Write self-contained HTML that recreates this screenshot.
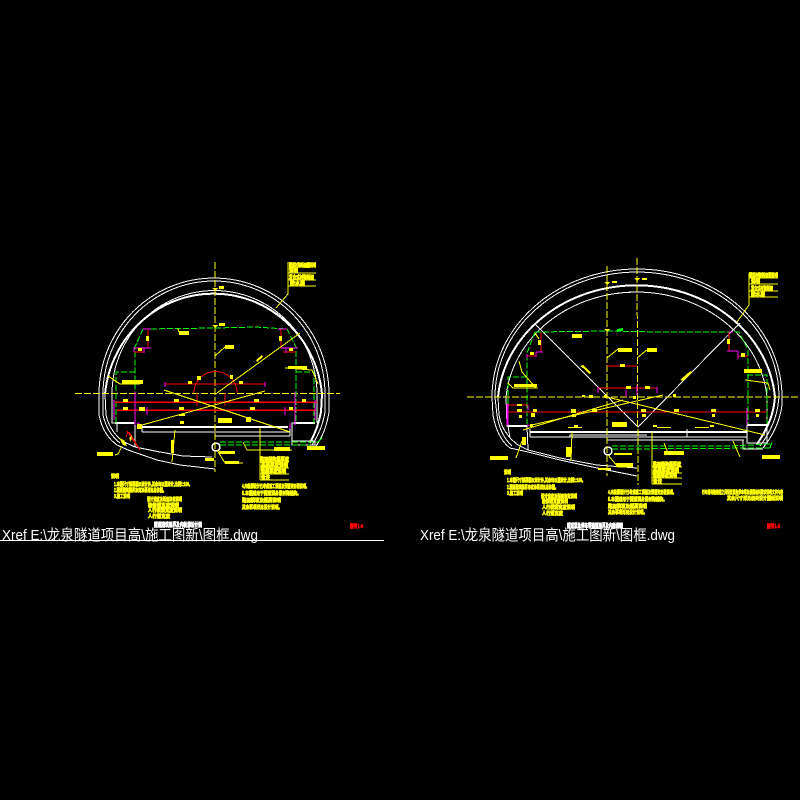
<!DOCTYPE html>
<html><head><meta charset="utf-8"><style>
html,body{margin:0;padding:0;background:#000;width:800px;height:800px;overflow:hidden}
svg{display:block;shape-rendering:crispEdges}
.w{fill:none;stroke:#fff;stroke-width:1}
.y{fill:none;stroke:#ff0;stroke-width:1}
.yd{fill:none;stroke:#ff0;stroke-width:1;stroke-dasharray:7 2}
.g{fill:none;stroke:#0f0;stroke-width:1;stroke-dasharray:6 2}
.r{fill:none;stroke:#f00;stroke-width:1}
.m{fill:none;stroke:#f0f;stroke-width:1}
.t{fill:#ff0;stroke:#ff0;stroke-width:.7;font:bold 5px "Liberation Sans","Noto Sans CJK SC",sans-serif}
.b{fill:#ff0}
.x{fill:#fff;font:15px "Liberation Sans","WenQuanYi Zen Hei","Noto Sans CJK SC",sans-serif}
.h{fill:#fff;stroke:#fff;stroke-width:.7;font:bold 6px "Noto Sans CJK SC",sans-serif}
.n{fill:#f00;stroke:#f00;stroke-width:.7;font:bold 5px "Noto Sans CJK SC",sans-serif}
</style></head><body>
<svg width="800" height="800" viewBox="0 0 800 800" xmlns="http://www.w3.org/2000/svg">
<rect width="800" height="800" fill="#000"/>

<!-- LEFT TUNNEL -->
<g>
<path class="w" d="M99 394A115 116 0 0 1 329 394L329 412Q326 432 316 446"/>
<path class="w" d="M103 394A111 113 0 0 1 325 394L325 412Q322 430 312 445"/>
<path class="w" style="stroke-width:2" d="M105 394A109 111 0 0 1 322 394L321 412Q318 428 310 443"/>
<path class="w" d="M112 394A102 103 0 0 1 317 394L317 423"/>
<path class="w" d="M99 394L99 415Q103 435 117 445L128 450L157 460L180 465L215 469"/>
<path class="w" d="M103 394L103 415Q107 433 120 443"/>
<path class="w" d="M105 394L106 415Q110 432 124 442L135 447L160 452L183 456L212 457"/>
<path class="w" d="M112 394L112 423L115 423L135 423L135 447M117 423L117 432M292 441L315 441L315 445L292 445L292 423L315 423"/>
<path class="w" style="stroke-width:2" d="M142 427L288 427M115 423L134 423M294 423L315 423"/>
<path class="w" d="M142 432L290 432M215 436L290 436M142 425L142 432M290 425L290 436"/>
<circle cx="216" cy="447" r="4" class="w" style="stroke-width:1.5"/>

<path class="yd" d="M215 262L215 472M75 393.500L340 393.500"/>
<path class="g" d="M143 329L215 328L255 327L287 329L296 347L296 422M143 329L135 347L135 422M135 372L116 372L116 423M296 372L314 372L314 423"/>
<path class="g" d="M220 442L318 442M220 445L310 445M318 442L322 438"/>

<path class="r" d="M148 329L148 348M281 329L281 348M134 352L144 352M283 352L296 352M165 384L265 384M194 393A21 21 0 0 1 237 393"/>
<path class="r" style="stroke-width:1.500" d="M115 402L317 402M117 410L316 410"/>
<path class="r" d="M127 431L140 450L129 432M128 432L126 437M197 393L197 406M225 393L225 406"/>
<path class="m" d="M143 329L151 329M278 329L287 329M135 348L151 348M134 347L134 352M144 348L144 353M281 348L298 348M286 348L286 353M165 382L165 387M265 382L265 387M114 400L114 420M135 392L135 425M295 392L295 425M315 400L315 420M290 423L290 429M137 423L142 425M147 407L147 415M285 407L285 415"/>

<path class="y" d="M142 425L265 391M164 390L290 432M217 393L300 333M215 356L225 347M108 376L120 384L140 384M276 308L288 294L288 262M288 273L316 273M288 280L316 280M288 286L316 286M285 368L312 370L318 384M178 329L179 332M260 428L260 480M260 462L289 462M260 468L289 468M260 474L289 474M260 480L289 480M243 442L247 450L292 450M217 450L225 463L243 463M115 455L118 454L122 446M175 430L172 462"/>

<g class="b">
<rect x="179" y="331" width="10" height="4"/><rect x="225" y="345" width="9" height="4"/><rect x="146" y="336" width="3" height="5"/><rect x="279" y="336" width="3" height="5"/><rect x="138" y="348" width="4" height="3"/><rect x="289" y="348" width="4" height="3"/>
<rect x="219" y="286" width="5" height="3"/><rect x="219" y="323" width="6" height="3"/>
<path d="M212 288h6l-3 3zM212 325h6l-3 3z"/>
<rect x="288" y="366" width="19" height="3"/><rect x="122" y="380" width="21" height="4"/>
<rect x="188" y="381" width="4" height="3"/><rect x="239" y="381" width="4" height="3"/>
<rect x="197" y="376" width="4" height="4"/><rect x="230" y="375" width="3" height="4"/>
<path d="M256 360l6-5 1 2-6 5z"/>
<rect x="123" y="399" width="5" height="3"/><rect x="174" y="399" width="5" height="3"/><rect x="254" y="399" width="5" height="3"/><rect x="302" y="399" width="4" height="3"/>
<rect x="123" y="407" width="5" height="3"/><rect x="179" y="407" width="5" height="3"/><rect x="250" y="407" width="5" height="3"/><rect x="289" y="407" width="4" height="3"/><rect x="139" y="407" width="6" height="4"/>
<rect x="179" y="414" width="6" height="2"/><rect x="218" y="418" width="14" height="5"/><rect x="180" y="421" width="4" height="3"/><rect x="246" y="417" width="5" height="5"/>
<rect x="137" y="424" width="5" height="5"/>
<rect x="97" y="452" width="16" height="4"/><rect x="274" y="447" width="16" height="4"/><rect x="307" y="446" width="18" height="4"/>
<rect x="171" y="440" width="3" height="13"/><rect x="225" y="461" width="14" height="3"/><rect x="205" y="458" width="9" height="3"/><rect x="219" y="451" width="16" height="3"/>
<path d="M119 438l5 2 3 6-4-1zM129 438l3-3-1 7z"/>
</g>

<text class="t" x="289" y="267" textLength="27" lengthAdjust="spacingAndGlyphs">隧道衬砌断面图说明</text>
<text class="t" x="289" y="272" textLength="9" lengthAdjust="spacingAndGlyphs">说明</text>
<text class="t" x="289" y="279" textLength="25" lengthAdjust="spacingAndGlyphs">复合式衬砌断面</text>
<text class="t" x="290" y="285" textLength="15" lengthAdjust="spacingAndGlyphs">防水层</text>
<text class="t" x="260" y="461" textLength="29" lengthAdjust="spacingAndGlyphs">路面结构层厚度</text>
<text class="t" x="261" y="467" textLength="27" lengthAdjust="spacingAndGlyphs">基层厚度说明</text>
<text class="t" x="261" y="473" textLength="25" lengthAdjust="spacingAndGlyphs">垫层厚度说明</text>
<text class="t" x="261" y="479" textLength="9" lengthAdjust="spacingAndGlyphs">备注</text>

<text class="t" x="111" y="478" textLength="8" lengthAdjust="spacingAndGlyphs">说明</text>
<text class="t" x="114" y="486" textLength="78" lengthAdjust="spacingAndGlyphs">1.本图尺寸除高程以米计外,其余均以厘米计,比例1:100。</text>
<text class="t" x="114" y="492" textLength="52" lengthAdjust="spacingAndGlyphs">2.隧道建筑限界净宽净高详见总体图。</text>
<text class="t" x="114" y="498" textLength="16" lengthAdjust="spacingAndGlyphs">3.施工说明</text>
<text class="t" x="147" y="501" textLength="35" lengthAdjust="spacingAndGlyphs">设计速度及断面净宽说明</text>
<text class="t" x="148" y="507" textLength="31" lengthAdjust="spacingAndGlyphs">检修道宽度说明</text>
<text class="t" x="148" y="512" textLength="34" lengthAdjust="spacingAndGlyphs">人行横洞宽度说明</text>
<text class="t" x="148" y="518" textLength="22" lengthAdjust="spacingAndGlyphs">人行道宽度</text>
<text class="t" x="242" y="488" textLength="67" lengthAdjust="spacingAndGlyphs">4.内轮廓设计已考虑施工误差及预留变形量说明。</text>
<text class="t" x="242" y="495" textLength="59" lengthAdjust="spacingAndGlyphs">5.本图适用于隧道洞身段衬砌结构。</text>
<text class="t" x="242" y="502" textLength="39" lengthAdjust="spacingAndGlyphs">路面横坡及超高说明</text>
<text class="t" x="242" y="509" textLength="40" lengthAdjust="spacingAndGlyphs">其余事项详见设计说明。</text>
<text class="h" x="154" y="527" textLength="48" lengthAdjust="spacingAndGlyphs">隧道建筑限界及内轮廓设计图</text>
<text class="n" x="350" y="528" textLength="13" lengthAdjust="spacingAndGlyphs">图号1-4</text>
</g>

<!-- RIGHT TUNNEL -->
<g>
<path class="w" d="M492 397A145 128 0 0 1 782 397L782 405Q779 428 763 448"/>
<path class="w" d="M495 397A142 125 0 0 1 779 397L778 405Q775 426 760 446"/>
<path class="w" style="stroke-width:2" d="M498 397A139 122 0 0 1 775 397L774 405Q771 424 757 444"/>
<path class="w" d="M506 397A131 115 0 0 1 767 397L767 425"/>
<path class="w" d="M492 397L493 415Q497 438 510 448L528 452L560 460L597 468L637 476"/>
<path class="w" d="M495 397L497 415Q500 435 512 446"/>
<path class="w" d="M498 397L499 415Q502 433 518 445L528 450L560 458L597 465L637 468"/>
<path class="w" d="M506 397L507 426L527 426L528 450M508 426L510 438M747 425L767 425L767 443L747 443L747 425M743 440L743 449L763 449"/>
<path class="w" style="stroke-width:2" d="M530 432L747 432M508 426L527 426M747 425L767 425"/>
<path class="w" d="M530 437L570 437L570 435L647 435M570 437L747 437M607 440L744 440M530 429L530 437M687 429L687 437"/>
<circle cx="608" cy="451" r="4" class="w" style="stroke-width:1.500"/>
<path class="w" d="M535 324L638 427L740 323"/>

<path class="yd" d="M607 266L607 476M637 258L638 485M467 397L800 397"/>
<path class="g" d="M535 332L610 331L660 332L739 332L748 350L748 424M535 332L527 353L527 424M527 377L508 377L508 424M747 375L767 375L767 424"/>
<path class="g" d="M612 446L730 446L770 444M612 449L770 448M770 448L772 442"/>
<path class="r" d="M541 332L541 352M729 332L729 351M527 356L536 356M738 356L748 356M607 366L637 366M598 388L657 388M507 405L528 405"/>
<path class="r" style="stroke-width:1" d="M507 412L767 412"/>
<path class="m" d="M536 352L543 352M536 352L536 357M527 354L527 358M727 351L738 351M738 351L738 359M729 332L733 332M598 387L598 393M657 387L657 393M637 385L637 395M507 404L507 425M508 404L508 425M528 405L528 410M747 408L747 425M527 425L532 426M626 390L626 397"/>

<path class="y" d="M532 425L663 395M607 397L765 435M523 430L623 400M749 305L749 273M749 305L737 322M749 278L778 278M749 284L778 284M749 291L778 291M749 297L778 297M519 361L522 372L536 388M508 383L513 388L538 388M607 358L618 349M637 358L648 349M535 333L539 339M652 432L652 484M652 467L682 467M652 473L682 473M652 478L682 478M652 484L682 484M745 380L768 383L770 390M664 443L668 453L684 453M733 441L740 457M516 458L522 441M608 455L618 467L632 467M571 461L572 432"/>
<g class="b">
<rect x="572" y="334" width="10" height="4"/><rect x="618" y="348" width="14" height="4"/><rect x="647" y="348" width="10" height="4"/><rect x="538" y="340" width="3" height="5"/><rect x="530" y="352" width="4" height="3"/><rect x="727" y="339" width="3" height="5"/><rect x="741" y="353" width="4" height="4"/>
<rect x="612" y="281" width="5" height="2"/><rect x="642" y="278" width="5" height="2"/><path d="M604 282h6l-3 3zM634 278h6l-3 3zM604 329h6l-3 3z"/>
<path d="M580 366l3-1 2 2 2 2 2 2 2 2-2 1-3-3-3-3z"/><path d="M680 380l8-7 3-2 1 2-3 2-6 6z"/>
<rect x="744" y="369" width="18" height="4"/><rect x="514" y="384" width="23" height="3"/><rect x="620" y="364" width="5" height="3"/><rect x="626" y="386" width="5" height="3"/><rect x="645" y="386" width="5" height="3"/>
<rect x="517" y="404" width="5" height="2"/>
<rect x="517" y="409" width="5" height="3"/><rect x="519" y="415" width="3" height="3"/><rect x="533" y="409" width="4" height="3"/><rect x="531" y="413" width="4" height="4"/>
<rect x="571" y="409" width="5" height="4"/><rect x="572" y="414" width="4" height="3"/><rect x="592" y="409" width="5" height="3"/><rect x="641" y="409" width="5" height="3"/><rect x="642" y="414" width="4" height="3"/>
<rect x="674" y="409" width="5" height="3"/><rect x="711" y="409" width="5" height="3"/><rect x="712" y="414" width="3" height="3"/><rect x="755" y="409" width="5" height="3"/><rect x="756" y="414" width="3" height="3"/>
<rect x="612" y="422" width="15" height="5"/>
<rect x="490" y="456" width="18" height="4"/><rect x="664" y="451" width="20" height="4"/><rect x="762" y="455" width="18" height="4"/><rect x="616" y="463" width="17" height="4"/><rect x="598" y="468" width="13" height="2"/><rect x="614" y="453" width="18" height="2"/>
<rect x="566" y="447" width="5" height="10"/><rect x="522" y="437" width="4" height="8"/><rect x="530" y="424" width="3" height="3"/>
<rect x="568" y="427" width="14" height="1"/><rect x="657" y="427" width="14" height="1"/><rect x="695" y="427" width="14" height="1"/>
<rect x="574" y="425" width="4" height="2"/><rect x="653" y="425" width="4" height="2"/><rect x="710" y="425" width="4" height="2"/>
<rect x="633" y="396" width="3" height="3"/><rect x="589" y="395" width="4" height="3"/><rect x="673" y="394" width="3" height="3"/><rect x="604" y="395" width="3" height="3"/><rect x="582" y="395" width="3" height="2"/><path d="M617 329l6-1v3l-6 1z" fill="#0f0"/>
</g>

<text class="t" x="749" y="277" textLength="29" lengthAdjust="spacingAndGlyphs">隧道衬砌断面图说明</text>
<text class="t" x="751" y="283" textLength="9" lengthAdjust="spacingAndGlyphs">说明</text>
<text class="t" x="751" y="290" textLength="22" lengthAdjust="spacingAndGlyphs">复合式衬砌断面</text>
<text class="t" x="751" y="296" textLength="14" lengthAdjust="spacingAndGlyphs">防水层</text>
<text class="t" x="653" y="466" textLength="28" lengthAdjust="spacingAndGlyphs">路面结构层厚度</text>
<text class="t" x="653" y="472" textLength="26" lengthAdjust="spacingAndGlyphs">基层厚度说明</text>
<text class="t" x="653" y="477" textLength="24" lengthAdjust="spacingAndGlyphs">垫层厚度说明</text>
<text class="t" x="653" y="483" textLength="9" lengthAdjust="spacingAndGlyphs">备注</text>

<text class="t" x="504" y="474" textLength="7" lengthAdjust="spacingAndGlyphs">说明</text>
<text class="t" x="507" y="482" textLength="78" lengthAdjust="spacingAndGlyphs">1.本图尺寸除高程以米计外,其余均以厘米计,比例1:100。</text>
<text class="t" x="507" y="489" textLength="51" lengthAdjust="spacingAndGlyphs">2.隧道建筑限界净宽净高详见总体图。</text>
<text class="t" x="507" y="495" textLength="16" lengthAdjust="spacingAndGlyphs">3.施工说明</text>
<text class="t" x="541" y="498" textLength="36" lengthAdjust="spacingAndGlyphs">设计速度及断面净宽说明</text>
<text class="t" x="542" y="503" textLength="26" lengthAdjust="spacingAndGlyphs">检修道宽度说明</text>
<text class="t" x="542" y="509" textLength="33" lengthAdjust="spacingAndGlyphs">人行横洞宽度说明</text>
<text class="t" x="542" y="515" textLength="21" lengthAdjust="spacingAndGlyphs">人行道宽度</text>
<text class="t" x="608" y="494" textLength="68" lengthAdjust="spacingAndGlyphs">4.内轮廓设计已考虑施工误差及预留变形量说明。</text>
<text class="t" x="608" y="501" textLength="59" lengthAdjust="spacingAndGlyphs">5.本图适用于隧道洞身段衬砌结构。</text>
<text class="t" x="608" y="508" textLength="39" lengthAdjust="spacingAndGlyphs">路面横坡及超高说明</text>
<text class="t" x="608" y="514" textLength="39" lengthAdjust="spacingAndGlyphs">其余事项详见设计说明。</text>
<text class="t" x="702" y="494" textLength="81" lengthAdjust="spacingAndGlyphs">行车道与检修道之间设置紧急停车带及横洞相关要求说明文字内容</text>
<text class="t" x="727" y="500" textLength="56" lengthAdjust="spacingAndGlyphs">其余尺寸详见相关设计图纸说明</text>
<text class="h" x="567" y="528" textLength="56" lengthAdjust="spacingAndGlyphs">隧道紧急停车带建筑限界及内轮廓图</text>
<text class="n" x="767" y="528" textLength="13" lengthAdjust="spacingAndGlyphs">图号1-5</text>
</g>

<!-- XREF LABELS -->
<text class="x" x="2" y="540" textLength="256" lengthAdjust="spacingAndGlyphs">Xref E:\龙泉隧道项目高\施工图新\图框.dwg</text>
<text class="x" x="420" y="540" textLength="255" lengthAdjust="spacingAndGlyphs">Xref E:\龙泉隧道项目高\施工图新\图框.dwg</text>
<path d="M0 540.500L384 540.500" stroke="#fff" stroke-width="1"/>
</svg>
</body></html>
